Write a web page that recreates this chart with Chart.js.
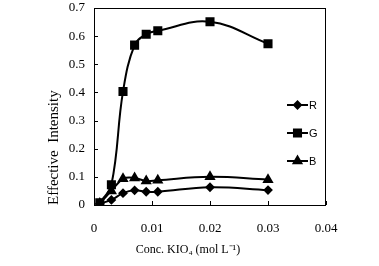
<!DOCTYPE html>
<html>
<head>
<meta charset="utf-8">
<script src="https://cdn.jsdelivr.net/npm/chart.js@4"></script>
<style>
  html, body { margin: 0; padding: 0; background: #fff; }
  #wrap { width: 379px; height: 266px; }
</style>
</head>
<body>
<div id="wrap"><canvas id="kioChart" width="379" height="266"></canvas></div>
<script>
// concentration of KIO4 (mol/L)
const conc = [0.001, 0.003, 0.005, 0.007, 0.009, 0.011, 0.02, 0.03];
const seriesR = [0.005, 0.018, 0.042, 0.052, 0.047, 0.047, 0.063, 0.053];
const seriesG = [0.008, 0.072, 0.403, 0.568, 0.607, 0.619, 0.651, 0.573];
const seriesB = [0.005, 0.05, 0.093, 0.096, 0.085, 0.088, 0.1, 0.09];
const xTicks = [0, 0.01, 0.02, 0.03, 0.04];
const yTicks = [0, 0.1, 0.2, 0.3, 0.4, 0.5, 0.6, 0.7];
const xTitle = 'Conc. KIO\u2084 (mol L\u207B\u00B9)';
const yTitle = 'Effective  Intensity';

const toPoints = vals => conc.map((c, i) => ({ x: c, y: vals[i] }));

const serif = 'Liberation Serif, Times New Roman, serif';

// inward tick marks, box around the plot, x title (sits left of centre in the original)
const framePlugin = {
    id: 'frame',
    afterDraw(chart) {
        const ctx = chart.ctx;
        const a = chart.chartArea;
        const xs = chart.scales.x, ys = chart.scales.y;
        ctx.save();
        ctx.strokeStyle = '#000';
        ctx.lineWidth = 1;
        ctx.strokeRect(a.left + 0.5, a.top + 0.5, a.right - a.left - 1, a.bottom - a.top);
        ctx.beginPath();
        xTicks.forEach(v => {
            const px = Math.round(xs.getPixelForValue(v)) + 0.5;
            ctx.moveTo(px, a.bottom);
            ctx.lineTo(px, a.bottom - 4);
        });
        yTicks.forEach(v => {
            const py = Math.round(ys.getPixelForValue(v)) + 0.5;
            ctx.moveTo(a.left, py);
            ctx.lineTo(a.left + 4, py);
        });
        ctx.stroke();

        ctx.fillStyle = '#000';
        ctx.font = '12px ' + serif;
        ctx.textAlign = 'center';
        ctx.textBaseline = 'middle';
        ctx.fillText(xTitle, xs.getPixelForValue(0.0162), 250);
        ctx.restore();
    }
};

// legend inside the plot, right side
const insideLegend = {
    id: 'insideLegend',
    afterDraw(chart) {
        const ctx = chart.ctx;
        const a = chart.chartArea;
        ctx.save();
        chart.data.datasets.forEach((ds, i) => {
            const y = a.top + 97 + i * 28;
            const x0 = a.right - 39, x1 = a.right - 18;
            ctx.strokeStyle = '#000';
            ctx.lineWidth = 2;
            ctx.beginPath();
            ctx.moveTo(x0, y);
            ctx.lineTo(x1, y);
            ctx.stroke();
            Chart.helpers.drawPoint(ctx, {
                pointStyle: ds.pointStyle,
                radius: ds.pointRadius,
                borderWidth: 1
            }, (x0 + x1) / 2, y);
            ctx.fillStyle = '#000';
            ctx.font = '11px Liberation Sans, Arial, sans-serif';
            ctx.textBaseline = 'middle';
            ctx.fillText(ds.label, x1 + 1, y + 1);
        });
        ctx.restore();
    }
};

const ctx = document.getElementById('kioChart').getContext('2d');
const lineStyle = { borderColor: '#000', backgroundColor: '#000', borderWidth: 2, tension: 0.4, showLine: true };

new Chart(ctx, {
    type: 'scatter',
    data: {
        datasets: [
            Object.assign({ label: 'R', data: toPoints(seriesR), pointStyle: 'rectRot', pointRadius: 3.5 }, lineStyle),
            Object.assign({ label: 'G', data: toPoints(seriesG), pointStyle: 'rect', pointRadius: 5 }, lineStyle),
            Object.assign({ label: 'B', data: toPoints(seriesB), pointStyle: 'triangle', pointRadius: 4.5 }, lineStyle)
        ]
    },
    options: {
        responsive: false,
        animation: false,
        layout: { autoPadding: false, padding: { top: 8, right: 53, bottom: 0, left: 0 } },
        plugins: {
            legend: { display: false },
            tooltip: { enabled: false }
        },
        scales: {
            x: {
                type: 'linear',
                min: 0,
                max: 0.04,
                afterBuildTicks: s => { s.ticks = xTicks.map(v => ({ value: v })); },
                afterFit: s => { s.height = 61; s.paddingLeft = 0; s.paddingRight = 0; },
                grid: { display: false, drawTicks: false },
                border: { display: false },
                ticks: {
                    color: '#000',
                    padding: 16,
                    font: { family: serif, size: 13 },
                    callback: v => String(v)
                },
                title: { display: false }
            },
            y: {
                min: 0,
                max: 0.7,
                afterBuildTicks: s => { s.ticks = yTicks.map(v => ({ value: v })); },
                afterFit: s => { s.width = 94; s.paddingTop = 0; s.paddingBottom = 0; },
                grid: { display: false, drawTicks: false },
                border: { display: false },
                ticks: {
                    color: '#000',
                    padding: 9,
                    font: { family: serif, size: 13 },
                    callback: v => String(v)
                },
                title: {
                    display: true,
                    text: yTitle,
                    align: 'start',
                    color: '#000',
                    font: { family: serif, size: 15 },
                    padding: { top: 45 }
                }
            }
        }
    },
    plugins: [framePlugin, insideLegend]
});
</script>
</body>
</html>
